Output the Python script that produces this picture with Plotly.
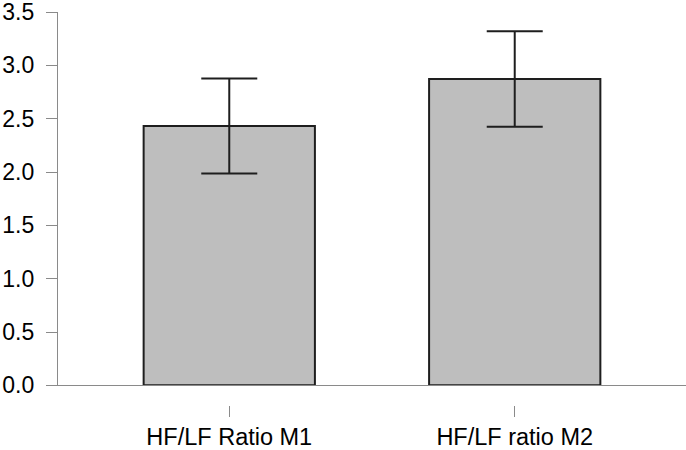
import plotly.graph_objects as go

# Mean HF/LF ratio per measurement with its error margin
categories = ["HF/LF Ratio M1", "HF/LF ratio M2"]
means = [2.432, 2.872]
errors = [0.446, 0.448]
y_ticks = [0.0, 0.5, 1.0, 1.5, 2.0, 2.5, 3.0, 3.5]

positions = list(range(len(categories)))
axis_gray = "#8a8a8a"
font_family = "Liberation Sans, Arial, sans-serif"

fig = go.Figure()
fig.add_trace(go.Bar(
    x=positions,
    y=means,
    width=0.6,
    marker=dict(color="#bebebe", line=dict(color="#1e1e1e", width=2)),
    error_y=dict(type="data", array=errors, visible=True,
                 color="#1e1e1e", thickness=2, width=28),
    showlegend=False,
))
# invisible trace on the detached category axis carrying the labels
fig.add_trace(go.Scatter(x=positions, y=means, xaxis="x2", mode="markers",
                         marker=dict(opacity=0), hoverinfo="skip",
                         showlegend=False))

x_range = [-0.6, len(categories) - 0.4]

fig.update_layout(
    width=686, height=450,
    margin=dict(l=58, r=0, t=12, b=45),
    paper_bgcolor="white", plot_bgcolor="white",
    font=dict(family=font_family, color="black"),
    xaxis=dict(
        range=x_range, showgrid=False, zeroline=False,
        showline=True, linecolor=axis_gray, linewidth=1.2,
        showticklabels=False, ticks="",
    ),
    xaxis2=dict(
        range=x_range, overlaying="x", anchor="free", position=0,
        side="bottom", showgrid=False, zeroline=False, showline=False,
        tickmode="array", tickvals=positions, ticktext=categories,
        ticks="outside", ticklen=11, tickcolor=axis_gray, tickwidth=1.2,
        tickfont=dict(size=23.5, family=font_family, color="black"),
    ),
    yaxis=dict(
        range=[0, 3.5005], domain=[0.05, 1],
        tickmode="array", tickvals=y_ticks,
        ticktext=[f"{v:.1f}" for v in y_ticks],
        showgrid=False, zeroline=False,
        showline=True, linecolor=axis_gray, linewidth=1.2,
        ticks="outside", ticklen=11, tickcolor=axis_gray, tickwidth=1.2,
        tickfont=dict(size=23, family=font_family, color="black"),
        ticklabelstandoff=7, ticklabeloverflow="allow",
    ),
    bargap=0.4,
)

fig.write_html("out.html")
